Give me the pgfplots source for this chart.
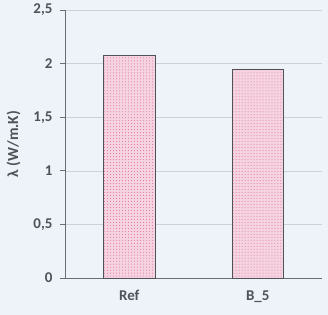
\documentclass[border=0pt]{standalone}
\usepackage{pgfplots}
\pgfplotsset{compat=1.18}
\usetikzlibrary{patterns,backgrounds}
\usepackage{fontspec}
\setmainfont{Carlito}
\definecolor{bg}{HTML}{EEF3F9}
\definecolor{axgray}{HTML}{6A6E74}
\definecolor{gridgray}{HTML}{CDD2D8}
\definecolor{txt}{HTML}{4F5358}
\definecolor{barfill}{HTML}{F5D3E0}
\definecolor{dotpink}{HTML}{DE6F99}
\definecolor{barline}{HTML}{4F5257}
\begin{document}
\begin{tikzpicture}
\begin{axis}[
  scale only axis, width=257bp, height=268bp,
  xmin=-0.5, xmax=1.5, ymin=0, ymax=2.5,
  axis x line*=bottom, axis y line*=left,
  axis line style={axgray, line width=0.8pt},
  xtick={0,1}, xticklabels={Ref, B\_5},
  major x tick style={draw=none},
  extra x ticks={-0.5,0.5,1.5}, extra x tick labels={},
  extra x tick style={major tick length=4bp, tick align=outside, grid=none, tick style={axgray, line width=0.8pt}},
  ytick={0,0.5,1,1.5,2,2.5},
  yticklabels={0,{0,5},1,{1,5},2,{2,5}},
  ymajorgrids, grid style={gridgray, line width=0.6pt},
  y tick style={axgray, line width=0.8pt},
  tick align=outside, major tick length=5bp,
  ticklabel style={font=\bfseries\fontsize{15}{17}\selectfont, text=txt},
  /pgf/number format/assume math mode=true,
  ylabel={\bfseries λ (W/m.K)},
  ylabel style={font=\fontsize{15.5}{17}\selectfont, text=txt, at={(axis description cs:-0.2,0.5)}, anchor=center},
  xticklabel style={yshift=-4bp},
  yticklabel style={xshift=-4bp},
  ybar, bar width=0.4,
]
\addplot[draw=barline, line width=0.8pt, fill=barfill,
  postaction={pattern=dots, pattern color=dotpink}]
  coordinates {(0,2.08) (1,1.95)};
\end{axis}
\pgfresetboundingbox
\begin{scope}[on background layer]
\fill[bg] ([shift={(-65bp,-37bp)}]current axis.south west) rectangle ([shift={(6bp,10bp)}]current axis.north east);
\end{scope}
\end{tikzpicture}
\end{document}
